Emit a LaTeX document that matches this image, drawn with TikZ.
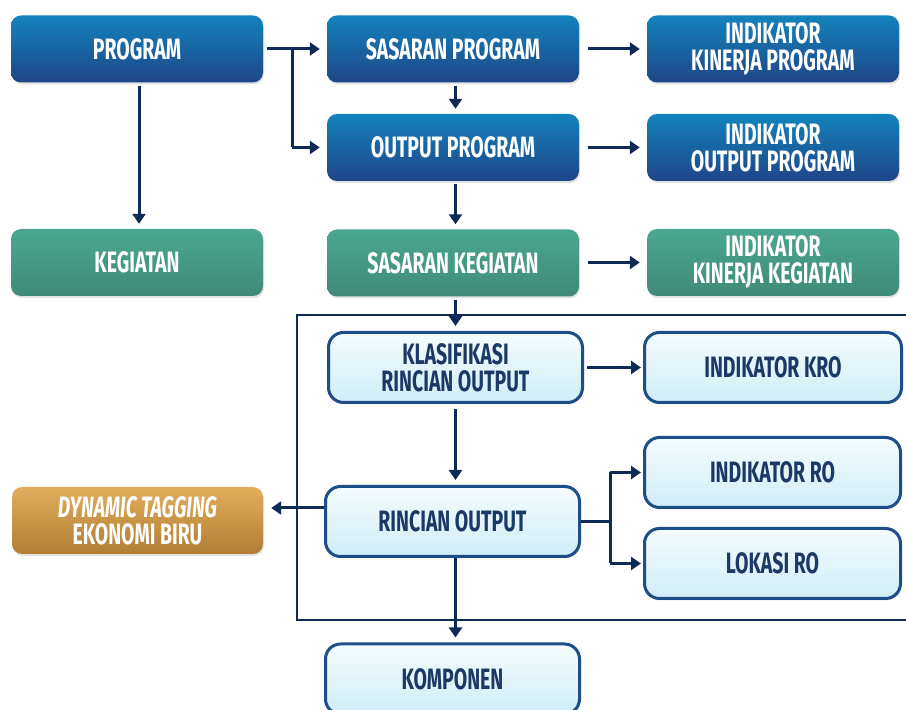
\documentclass[tikz,border=0pt]{standalone}
\usepackage{fontspec}
\setmainfont{Fira Sans}[FakeStretch=0.66]
\usetikzlibrary{arrows.meta,shadows}
\definecolor{navy}{HTML}{0E2A57}
\definecolor{blueT}{HTML}{1383BC}
\definecolor{blueB}{HTML}{1F4588}
\definecolor{greenT}{HTML}{4BA690}
\definecolor{greenB}{HTML}{3F8B78}
\definecolor{goldT}{HTML}{E2AE5C}
\definecolor{goldB}{HTML}{AF7D35}
\definecolor{lightT}{HTML}{F4FCFE}
\definecolor{lightB}{HTML}{D0EDF7}
\definecolor{lightD}{HTML}{1E4E8A}
\definecolor{textD}{HTML}{1B3966}
\tikzset{
  base/.style={rectangle, inner sep=0pt, align=center,
    font=\bfseries\fontsize{29.5}{27}\selectfont,
    drop shadow={shadow xshift=1pt, shadow yshift=-2pt, opacity=0.22}},
  darkbox/.style={base, rounded corners=10pt, minimum width=252pt, minimum height=67pt, text=white},
  bluebox/.style={darkbox, top color=blueT, bottom color=blueB},
  greenbox/.style={darkbox, top color=greenT, bottom color=greenB},
  goldbox/.style={darkbox, top color=goldT, bottom color=goldB},
  lightbox/.style={base, rounded corners=15pt, draw=lightD, line width=3pt,
    top color=lightT, bottom color=lightB, text=textD,
    minimum width=254pt, minimum height=70pt},
  arr/.style={draw=navy, line width=3pt, -{Triangle[length=10pt,width=13pt]},
    shorten >=5pt, shorten <=3pt},
  plain/.style={draw=navy, line width=3pt},
  frame/.style={draw=navy, line width=2.5pt}
}
\begin{document}
\begin{tikzpicture}[x=1pt,y=1pt]
\useasboundingbox (0,0) rectangle (906,710);
\clip (0,0) rectangle (906,710);
\fill[white] (0,0) rectangle (906,710);

% frame
\coordinate (ftl) at (906,395);
\coordinate (fl) at (297,395);
\coordinate (fbl) at (297,90);
\coordinate (fbr) at (906,90);
\draw[frame] (ftl) -- (fl) -- (fbl) -- (fbr);

% nodes
\node[bluebox] (prog) at (137,661) {PROGRAM};
\node[bluebox] (sp) at (453,661) {SASARAN PROGRAM};
\node[bluebox] (ikp) at (773,661) {INDIKATOR\\KINERJA PROGRAM};
\node[bluebox] (op) at (453,562.5) {OUTPUT PROGRAM};
\node[bluebox] (iop) at (773,562.5) {INDIKATOR\\OUTPUT PROGRAM};
\node[greenbox] (keg) at (137,447.5) {KEGIATAN};
\node[greenbox] (sk) at (453,447) {SASARAN KEGIATAN};
\node[greenbox] (ikk) at (773,447.5) {INDIKATOR\\KINERJA KEGIATAN};
\node[lightbox] (kro) at (455.5,342.5) {KLASIFIKASI\\RINCIAN OUTPUT};
\node[lightbox, minimum width=257pt] (ikro) at (773,342.5) {INDIKATOR KRO};
\node[lightbox] (ro) at (452.5,188.5) {RINCIAN OUTPUT};
\node[lightbox, minimum width=256pt] (itr) at (772.5,237.5) {INDIKATOR RO};
\node[lightbox, minimum width=256pt] (lro) at (772.5,146.5) {LOKASI RO};
\node[lightbox] (komp) at (452.5,31) {KOMPONEN};
\node[goldbox, minimum width=251pt] (dyn) at (137.5,189.5) {\textit{DYNAMIC TAGGING}\\EKONOMI BIRU};

% helper coordinates
\coordinate (colx) at (455.5,0);
\coordinate (progx) at (139,0);
\coordinate (br) at (292,661);
\coordinate (rb) at (610,188.5);
\coordinate (dy) at (0,202);

% connectors
\draw[arr, shorten <=4pt, shorten >=7pt] (prog.east) -- (sp.west);
\draw[plain] (br) -- (br |- op.west);
\draw[arr, shorten <=0pt, shorten >=7pt] (br |- op.west) -- (op.west);
\draw[arr] (prog.south -| progx) -- (keg.north -| progx);
\draw[arr] (sp.south -| colx) -- (op.north -| colx);
\draw[arr] (op.south -| colx) -- (sk.north -| colx);
\draw[arr] (sk.south -| colx) -- (kro.north -| colx);
\draw[arr, shorten <=5pt] (kro.south -| colx) -- (ro.north -| colx);
\draw[arr, shorten <=0pt] (ro.south -| colx) -- (komp.north -| colx);
\draw[arr, shorten <=9pt, shorten >=7pt] (sp.east) -- (ikp.west);
\draw[arr, shorten <=9pt, shorten >=7pt] (op.east) -- (iop.west);
\draw[arr, shorten <=9pt, shorten >=7pt] (sk.east |- ikk.west) -- (ikk.west);
\draw[arr, shorten <=3pt, shorten >=2pt] (kro.east) -- (ikro.west);
\draw[plain] (ro.east) -- (rb);
\draw[plain] (rb |- itr.west) -- (rb |- lro.west);
\draw[arr, shorten <=0pt, shorten >=2pt] (rb |- itr.west) -- (itr.west);
\draw[arr, shorten <=0pt, shorten >=2pt] (rb |- lro.west) -- (lro.west);
\draw[arr, shorten <=0pt, shorten >=8pt] (ro.west |- dy) -- (dyn.east |- dy);
\end{tikzpicture}
\end{document}
